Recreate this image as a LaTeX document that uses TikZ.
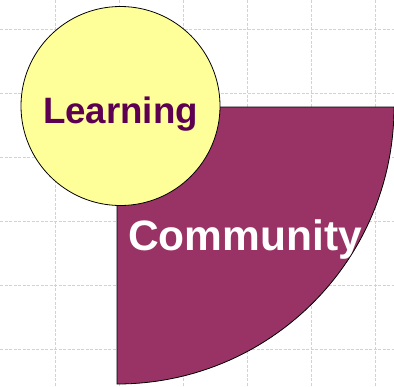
\documentclass[tikz,border=0pt]{standalone}
\usepackage{fontspec}
\setmainfont{Liberation Sans}
\definecolor{plum}{HTML}{993366}
\definecolor{paleyellow}{HTML}{FFFF99}
\definecolor{darkplum}{HTML}{5E0052}
\definecolor{gridblue}{HTML}{C6D0FA}
\begin{document}
\begin{tikzpicture}[x=1pt, y=-1pt,
  gridline/.style={gridblue, line width=0.6pt, dash pattern=on 3pt off 1.5pt},
  outline/.style={draw=black, line width=0.8pt}]
\useasboundingbox (0,0) rectangle (394,386);
% Grid
\foreach \x in {55,119,...,375} \draw[gridline] (\x,0) -- (\x,386);
\foreach \y in {29,93,...,349} \draw[gridline] (0,\y) -- (394,\y);

% Quarter disc
\filldraw[outline, fill=plum] (117,107) -- (394,107) arc[start angle=0, end angle=90, radius=277] -- cycle;

% Circle
\node[circle, outline, fill=paleyellow, minimum size=199pt, inner sep=0pt] (circ) at (120.5,106) {};

% Labels
\node[anchor=base, text=darkplum, font=\bfseries\fontsize{36.7}{40}\selectfont] (learning) at (120.5,123) {Learning};
\node[anchor=base, text=white, font=\bfseries\fontsize{42.5}{46}\selectfont] (community) at (245,250) {Community};
\end{tikzpicture}
\end{document}
